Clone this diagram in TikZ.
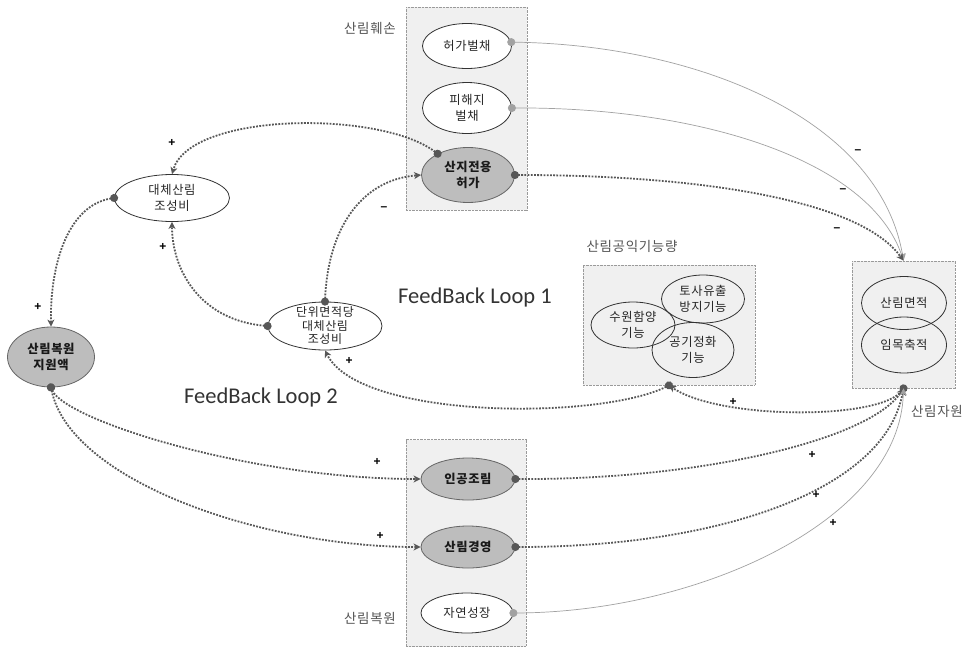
\documentclass[tikz,border=0pt]{standalone}
\usepackage{fontspec}
\setmainfont{Carlito}
\newfontfamily\kr{Noto Sans CJK KR}[LetterSpace=5]
\newfontfamily\signfont{Liberation Sans}
\usetikzlibrary{shapes.geometric,arrows.meta}
\definecolor{boxfill}{HTML}{F0F0F0}
\definecolor{boxline}{HTML}{9A9A9A}
\definecolor{nodegray}{HTML}{BDBDBD}
\definecolor{linkdark}{HTML}{575757}
\definecolor{linklight}{HTML}{A2A2A2}
\definecolor{grouptext}{HTML}{555555}

\begin{document}
\begin{tikzpicture}[x=1pt,y=-1pt,
  group/.style={rectangle, draw=boxline, fill=boxfill, line width=0.7pt,
    dash pattern=on 0.9pt off 0.5pt, inner sep=0pt},
  var/.style={ellipse, draw=black!80, line width=0.8pt, fill=white, inner sep=0pt},
  key/.style={var, fill=nodegray, draw=black!60},
  open/.style={ellipse, draw=black!80, line width=0.8pt, inner sep=0pt},
  vtext/.style={font=\kr\fontsize{12.3}{16}\selectfont, align=center, text=black!85},
  ktext/.style={font=\kr\bfseries\fontsize{12.3}{16}\selectfont, align=center, text=black!90},
  tighttext/.style={font=\kr\fontsize{12}{13.5}\selectfont, align=center, text=black!85},
  grouplabel/.style={font=\kr\fontsize{13.5}{16}\selectfont, text=grouptext},
  looplabel/.style={font=\fontsize{22.5}{26}\selectfont, text=black!80},
  sign/.style={font=\signfont\bfseries\fontsize{12}{12}\selectfont, inner sep=0pt},
  causal/.style={draw=linkdark, line width=1.8pt, dash pattern=on 1.8pt off 1.4pt,
    {Circle[length=8pt]}-{Stealth[length=7pt,width=7pt,inset=2pt]}, shorten <=-4pt},
  faint/.style={draw=linklight, line width=0.7pt,
    {Circle[length=8pt]}-{Stealth[length=7pt,width=7pt,inset=2pt]}, shorten <=-4pt}
]
\useasboundingbox (0,0) rectangle (969,648);
\fill[white] (0,0) rectangle (969,648);

% group boxes
\node[group, minimum width=121pt, minimum height=203pt] (dmg) at (466.5,108.5) {};
\node[grouplabel] (dmglbl) at (370,28) {산림훼손};
\node[group, minimum width=120pt, minimum height=207pt] (rst) at (466,543) {};
\node[grouplabel] (rstlbl) at (370,618) {산림복원};
\node[group, minimum width=172pt, minimum height=120pt] (pub) at (669,325) {};
\node[grouplabel] (publbl) at (632,246) {산림공익기능량};
\node[group, minimum width=103pt, minimum height=127pt] (res) at (903.5,324.5) {};
\node[grouplabel] (reslbl) at (937,411) {산림자원};

% variables
\node[var, minimum width=89pt, minimum height=45pt, label={[vtext]center:{허가벌채}}] (hb) at (467,46) {};
\node[var, minimum width=89pt, minimum height=51pt, label={[vtext]center:{피해지\\벌채}}] (pd) at (467,108) {};
\node[key, minimum width=93pt, minimum height=55pt, label={[ktext]center:{산지전용\\허가}}] (sj) at (468,175) {};
\node[var, minimum width=115pt, minimum height=47pt, label={[vtext]center:{대체산림\\조성비}}] (alt) at (172,198) {};
\node[key, minimum width=87pt, minimum height=60pt, label={[ktext]center:{산림복원\\지원액}}] (sup) at (51,357) {};
\node[var, minimum width=114pt, minimum height=48pt, label={[tighttext]center:{단위면적당\\대체산림\\조성비}}] (unit) at (325,326) {};

\node[open, minimum width=84pt, minimum height=46pt, label={[vtext]center:{수원함양\\기능}}] (wat) at (633,325) {};
\node[open, minimum width=83pt, minimum height=48pt, label={[vtext]center:{토사유출\\방지기능}}] (soil) at (703,299) {};
\node[open, minimum width=82pt, minimum height=55pt, label={[vtext]center:{공기정화\\기능}}] (air) at (693,350) {};

\node[open, minimum width=85pt, minimum height=53pt, label={[vtext]center:{산림면적}}] (area) at (904,303) {};
\node[open, minimum width=85pt, minimum height=56pt, label={[vtext]center:{임목축적}}] (stock) at (904,345) {};

\node[key, minimum width=94pt, minimum height=42pt, label={[ktext]center:{인공조림}}] (plt) at (468,479) {};
\node[key, minimum width=94pt, minimum height=42pt, label={[ktext]center:{산림경영}}] (mgmt) at (468,547) {};
\node[var, minimum width=92pt, minimum height=40pt, label={[vtext]center:{자연성장}}] (nat) at (467,613) {};

% loop captions
\node[looplabel] (loop1) at (475,297) {FeedBack Loop 1};
\node[looplabel] (loop2) at (261,397) {FeedBack Loop 2};

% causal links
\draw[faint] (hb.5) .. controls (700,45) and (880,120) .. (res.north);
\draw[faint] (pd.east) .. controls (700,107) and (870,160) .. (res.north);
\draw[causal] (sj.east) .. controls (700,175) and (860,200) .. (res.north);
\draw[causal] (sj.145) .. controls (380,110) and (190,112) .. (alt.north);
\draw[causal] (unit.north) .. controls (328,230) and (360,180) .. (sj.west);
\draw[causal] (unit.west) .. controls (200,320) and (172,270) .. (alt.south);
\draw[causal] (alt.west) .. controls (70,205) and (50,260) .. (sup.north);
\draw[causal] (sup.south) .. controls (65,420) and (250,479) .. (plt.west);
\draw[causal] (sup.south) .. controls (70,480) and (260,547) .. (mgmt.west);
\draw[causal] (pub.south) .. controls (600,420) and (360,420) .. (unit.south);
\draw[causal] (res.south) .. controls (880,420) and (720,420) .. (pub.south);
\draw[causal] (plt.east) .. controls (700,480) and (870,440) .. (res.south);
\draw[causal] (mgmt.east) .. controls (720,547) and (885,490) .. (res.south);
\draw[faint] (nat.east) .. controls (700,612) and (900,520) .. (res.south);

% polarity signs
\node[sign] (m1) at (858,152) {–};
\node[sign] (m2) at (843,191) {–};
\node[sign] (m3) at (837,230) {–};
\node[sign] (m4) at (384,209) {–};
\node[sign] (p1) at (172,143) {+};
\node[sign] (p2) at (163,247) {+};
\node[sign] (p3) at (38,307) {+};
\node[sign] (p4) at (377,462) {+};
\node[sign] (p5) at (380,536) {+};
\node[sign] (p6) at (349,361) {+};
\node[sign] (p7) at (733,402) {+};
\node[sign] (p8) at (812,455) {+};
\node[sign] (p9) at (816,495) {+};
\node[sign] (p10) at (833,523) {+};
\end{tikzpicture}
\end{document}
